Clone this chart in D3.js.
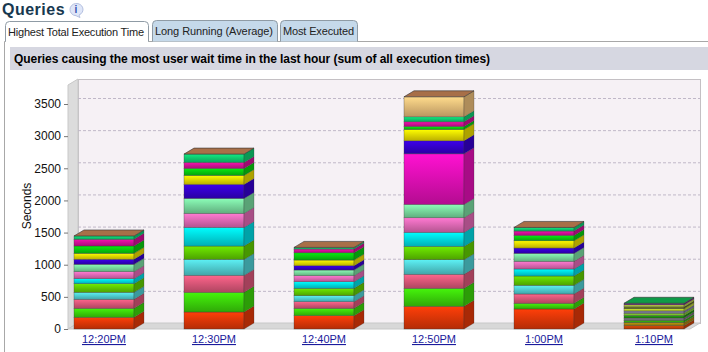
<!DOCTYPE html>
<html lang="en">
<head>
  <meta charset="UTF-8">
  <title>Queries</title>
  <style type="text/css">
    body{ margin:0; background:#fff; overflow:hidden; }
    svg{ display:block; font-family:"Liberation Sans",Arial,sans-serif; }
  </style>
  <script src="https://d3js.org/d3.v7.min.js"></script>
</head>
<body>
  <svg></svg>
  <script>
    const categories = ["12:20PM","12:30PM","12:40PM","12:50PM","1:00PM","1:10PM"];
    const tabLabels = ["Highest Total Execution Time","Long Running (Average)","Most Executed"];
    const yTicks = [0,500,1000,1500,2000,2500,3000,3500];

    // one list per query, bottom of stack first
    const q01 = [181,264,207,352,311,0];
    const q02 = [140,306,114,280,88,0];
    const q03 = [140,264,104,218,145,0];
    const q04 = [109,249,93,228,135,0];
    const q05 = [135,207,114,207,145,0];
    const q06 = [78,290,104,218,109,0];
    const q07 = [109,218,93,228,119,0];
    const q08 = [114,233,88,207,124,0];
    const q09 = [0,0,0,787,0,0];
    const q10 = [78,218,67,202,83,0];
    const q11 = [93,140,88,176,114,0];
    const q12 = [114,109,114,47,83,0];
    const q13 = [104,93,57,73,67,0];
    const q14 = [52,130,26,78,57,0];
    const q15 = [0,0,0,311,0,0];
    // thin strips only seen in the last bar
    const q16 = [0,0,0,0,0,50];
    const q17 = [0,0,0,0,0,50];
    const q18 = [0,0,0,0,0,35];
    const q19 = [0,0,0,0,0,35];
    const q20 = [0,0,0,0,0,40];
    const q21 = [0,0,0,0,0,35];
    const q22 = [0,0,0,0,0,35];
    const q23 = [0,0,0,0,0,35];
    const q24 = [0,0,0,0,0,30];
    const q25 = [0,0,0,0,0,30];
    const q26 = [0,0,0,0,0,25];

    const queryValues = [q01,q02,q03,q04,q05,q06,q07,q08,q09,q10,q11,q12,q13,q14,q15,q16,q17,q18,q19,q20,q21,q22,q23,q24,q25,q26];
    const queryNames = queryValues.map((v,i) => "q" + (i+1));
    const queryColors = ["#f03a08","#3fe00a","#e85c80","#55dce0","#66d800","#00e8f0","#f070c0","#80e8a8","#f010c0","#3800d8","#f8e800","#08d810","#e010a0","#10d878","#f8c880",
                         "#d84808","#b08a10","#38b810","#807a88","#209a10","#88d830","#8888a8","#d0e830","#6a7a20","#c8e040","#763088"];

    const rows = categories.map((c,i) => {
      const r = {cat:c};
      queryNames.forEach((n,j) => r[n] = queryValues[j][i]);
      return r;
    });

    const svg = d3.select("svg").attr("width",708).attr("height",352);

    // header
    svg.append("text").attr("x",2).attr("y",15).attr("font-size",16).attr("font-weight","bold")
       .attr("fill","#17384f").style("letter-spacing","0.5px").text("Queries");
    svg.append("path").attr("d","M70,9.5a6.5,6,0 1,1 9,5.5l1,2.5l-4,-1.8a6.5,6 0 0,1 -6,-6.2Z")
       .attr("fill","#dfe6f8").attr("stroke","#b4c0e0");
    svg.append("text").attr("x",76).attr("y",13).attr("text-anchor","middle").attr("font-size",10)
       .attr("font-weight","bold").attr("fill","#3050b0").text("i");

    // panel outline
    svg.append("path").attr("d","M4.5,352V41.5H708").attr("fill","none").attr("stroke","#a8a8a8");

    // tabs
    const tabX = [5,152,280], tabW = [144,126,78], tabText = [8,155,283], tabLen = [136,118,71];
    tabLabels.forEach((t,i) => {
      const active = i === 0;
      const top = active ? 21.5 : 20.5;
      svg.append("path")
         .attr("d",`M${tabX[i]+.5},41.5V${top+4}q0,-4 4,-4H${tabX[i]+tabW[i]-4.5}q4,0 4,4V41.5`)
         .attr("fill",active ? "#fff" : "#c5d9ea").attr("stroke","#8f9ba5");
      svg.append("text").attr("x",tabText[i]).attr("y",active?36:35).attr("font-size",11)
         .attr("textLength",tabLen[i]).attr("lengthAdjust","spacing")
         .attr("fill","#222").text(t);
    });
    svg.append("line").attr("x1",6).attr("x2",148).attr("y1",41.5).attr("y2",41.5).attr("stroke","#fff").attr("stroke-width",2);

    // subtitle band
    svg.append("rect").attr("x",10).attr("y",47).attr("width",698).attr("height",23).attr("fill","#d6d7e1");
    svg.append("text").attr("x",14).attr("y",63).attr("font-size",12).attr("font-weight","bold").attr("fill","#000")
       .attr("textLength",476).attr("lengthAdjust","spacing")
       .text("Queries causing the most user wait time in the last hour (sum of all execution times)");

    // chart
    const depthX = 10, depthY = 6;
    const wallL = 68, wallR = 690, plotTop = 85;
    const x = d3.scaleBand().domain(categories).range([74,684]).paddingInner(50/110).paddingOuter(0);
    const y = d3.scaleLinear().domain([0,3500]).range([329,104]);

    const g = svg.append("g");
    // back wall, left wall, floor
    g.append("rect").attr("x",wallL+depthX+.5).attr("y",plotTop-depthY+.5).attr("width",wallR-wallL)
     .attr("height",329-plotTop).attr("fill","#f6f1f5").attr("stroke","#c4c0c4");
    g.append("path").attr("d",`M${wallL},${plotTop}L${wallL+depthX},${plotTop-depthY}V${329-depthY}L${wallL},329Z`)
     .attr("fill","#dcdcdc").attr("stroke","#c8c8c8");
    g.append("path").attr("d",`M${wallL},329L${wallL+depthX},${329-depthY}H${wallR+depthX}L${wallR},329Z`)
     .attr("fill","#d8d8d8").attr("stroke","#c8c8c8");

    // dashed gridlines on the back wall
    g.selectAll(".grid").data(yTicks.slice(1)).enter().append("line")
     .attr("x1",wallL+depthX).attr("x2",wallR+depthX)
     .attr("y1",d => y(d)-depthY+.5).attr("y2",d => y(d)-depthY+.5)
     .attr("stroke","#c0b8c8").attr("stroke-dasharray","3,2");

    // axes
    const yAxis = d3.axisLeft(y).tickValues(yTicks).tickSize(4).tickFormat(d3.format("d"));
    const yG = g.append("g").attr("transform",`translate(${wallL},0)`).call(yAxis);
    yG.select(".domain").remove();
    yG.selectAll(".tick line").attr("stroke","#777");
    yG.selectAll("text").attr("font-size",12).attr("fill","#111").attr("font-family","Liberation Sans");
    svg.append("text").attr("transform","translate(31,206) rotate(-90)").attr("text-anchor","middle")
       .attr("font-size",12).attr("fill","#111").text("Seconds");

    const defsRoot = svg.append("defs");
    queryColors.forEach((c,i) => {
      const grad = defsRoot.append("linearGradient").attr("id",`fade${i}`).attr("x1",0).attr("x2",0).attr("y1",0).attr("y2",1);
      grad.append("stop").attr("offset",0).attr("stop-color",d3.color(c).brighter(0.25));
      grad.append("stop").attr("offset",1).attr("stop-color",d3.color(c).darker(0.8));
    });

    // stacked boxes
    const stack = d3.stack().keys(queryNames)(rows);
    const layers = g.selectAll(".layer").data(stack).enter().append("g").attr("class","layer");
    layers.each(function(layer,i){
      const sel = d3.select(this);
      const segs = layer.filter(d => d[1] > d[0]);
      sel.selectAll(".front").data(segs).enter().append("rect")
         .attr("x",d => x(d.data.cat)).attr("width",x.bandwidth())
         .attr("y",d => y(d[1])).attr("height",d => y(d[0])-y(d[1]))
         .attr("fill",`url(#fade${i})`).attr("stroke","#3a3a3a").attr("stroke-opacity",.55).attr("stroke-width",.6);
      sel.selectAll(".side").data(segs).enter().append("path")
         .attr("d",d => {
           const r = x(d.data.cat)+x.bandwidth();
           return `M${r},${y(d[1])}l${depthX},${-depthY}V${y(d[0])-depthY}l${-depthX},${depthY}Z`;
         })
         .attr("fill",d3.color(queryColors[i]).darker(1)).attr("stroke","#333").attr("stroke-opacity",.5).attr("stroke-width",.5);
    });

    // lid on each stack
    const totals = categories.map((c,i) => d3.sum(queryValues,v => v[i]));
    const lidColors = ["#a86f48","#a86f48","#a86f48","#a86f48","#a86f48","#0f9a48"];
    g.selectAll(".lid").data(categories).enter().append("path")
     .attr("d",(c,i) => {
       const l = x(c), t = y(totals[i]);
       return `M${l},${t}l${depthX},${-depthY}h${x.bandwidth()}l${-depthX},${depthY}Z`;
     })
     .attr("fill",(c,i) => lidColors[i]).attr("stroke","#333").attr("stroke-width",.6);

    // category links
    g.selectAll(".cat").data(categories).enter().append("text")
     .attr("x",c => x(c)+x.bandwidth()/2).attr("y",343).attr("text-anchor","middle")
     .attr("font-size",11).attr("fill","#1a1a9c").attr("text-decoration","underline").text(c => c);
  </script>
</body>
</html>
